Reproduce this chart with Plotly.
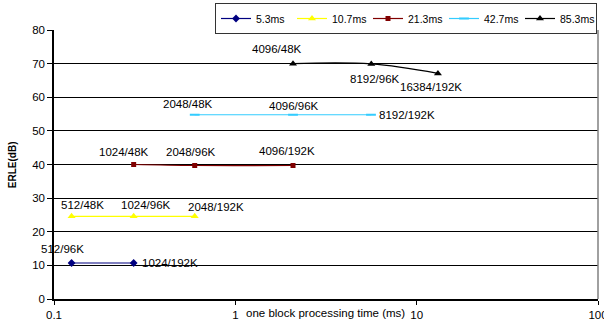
import math
import plotly.graph_objects as go

# ---- data ----
series_names = ["5.3ms", "10.7ms", "21.3ms", "42.7ms", "85.3ms"]
x_53 = [0.125, 0.275]
y_53 = [10.7, 10.7]
lbl_53 = ["512/96K", "1024/192K"]

x_107 = [0.125, 0.275, 0.597]
y_107 = [24.6, 24.6, 24.6]
lbl_107 = ["512/48K", "1024/96K", "2048/192K"]

x_213 = [0.275, 0.597, 2.08]
y_213 = [40.0, 39.7, 39.7]
lbl_213 = ["1024/48K", "2048/96K", "4096/192K"]

x_427 = [0.597, 2.08, 5.6]
y_427 = [54.8, 54.8, 54.8]
lbl_427 = ["2048/48K", "4096/96K", "8192/192K"]

x_853 = [2.08, 5.62, 13.1]
y_853 = [70.0, 69.9, 67.1]
lbl_853 = ["4096/48K", "8192/96K", "16384/192K"]

x_ticks = [0.1, 1, 10, 100]
x_ticktext = ["0.1", "1", "10", "100"]
y_ticks = [0, 10, 20, 30, 40, 50, 60, 70, 80]

# ---- styles ----
FONT = "Arial, Liberation Sans, sans-serif"
styles = [
    dict(color="#000080", symbol="diamond", size=6),
    dict(color="#FFFF00", symbol="triangle-up", size=7),
    dict(color="#800000", symbol="square", size=5),
    dict(color="#33CCFF", symbol="line-ew", size=7),
    dict(color="#000000", symbol="triangle-up", size=7),
]
# label offsets in pixels (dx right, dy up) relative to each point
offsets = [
    [(-9, 14), (36, 0)],
    [(11, 11), (12, 11), (21, 9)],
    [(-10, 13), (-4, 14), (-6, 15)],
    [(-7, 11), (1, 9), (36, 0)],
    [(-16, 15), (4, -15), (-7, -14)],
]

xs = [x_53, x_107, x_213, x_427, x_853]
ys = [y_53, y_107, y_213, y_427, y_853]
lbls = [lbl_53, lbl_107, lbl_213, lbl_427, lbl_853]

fig = go.Figure()
for name, x, y, st in zip(series_names, xs, ys, styles):
    mk = dict(color=st["color"], symbol=st["symbol"], size=st["size"])
    if st["symbol"] == "line-ew":
        mk["line"] = dict(color=st["color"], width=2)
    fig.add_trace(go.Scatter(
        x=x, y=y, name=name, mode="lines+markers",
        line=dict(color=st["color"], width=1.2, shape="spline", smoothing=1),
        marker=mk,
    ))

annotations = []
for x, y, lb, offs in zip(xs, ys, lbls, offsets):
    for xi, yi, t, (dx, dy) in zip(x, y, lb, offs):
        annotations.append(dict(
            x=math.log10(xi), y=yi, xref="x", yref="y", text=t,
            showarrow=False, xshift=dx, yshift=dy,
            font=dict(family=FONT, size=11.5, color="black"),
        ))

annotations.append(dict(
    x=-0.076, y=0.5, xref="paper", yref="paper", text="<b>ERLE(dB)</b>",
    textangle=-90, showarrow=False, xanchor="center", yanchor="middle",
    font=dict(family=FONT, size=10, color="black"),
))
annotations.append(dict(
    x=0.499, y=-0.051, xref="paper", yref="paper",
    text="one block processing time (ms)",
    showarrow=False, xanchor="center", yanchor="middle",
    font=dict(family=FONT, size=11.5, color="black"),
))

fig.update_layout(
    width=604, height=321,
    margin=dict(l=54, r=6, t=30, b=22, autoexpand=False),
    paper_bgcolor="white", plot_bgcolor="white",
    font=dict(family=FONT, size=11.5, color="black"),
    showlegend=True,
    legend=dict(
        orientation="h", xref="container", yref="container",
        x=597 / 604, xanchor="right", y=1 - 3 / 321, yanchor="top",
        bordercolor="#333333", borderwidth=1, bgcolor="white",
        font=dict(family=FONT, size=10.5, color="black"),
        itemwidth=30, tracegroupgap=0, entrywidth=31,
    ),
    annotations=annotations,
    shapes=[dict(type="line", xref="paper", yref="paper", x0=1, x1=1, y0=0, y1=1,
                 line=dict(color="#808080", width=1.5))],
)
fig.update_xaxes(
    type="log", range=[-1, 2], tickvals=x_ticks, ticktext=x_ticktext,
    showgrid=False, zeroline=False, showline=True, linecolor="black", linewidth=1.5,
    ticks="outside", ticklen=4, tickcolor="black", automargin=False,
    ticklabeloverflow="allow",
    tickfont=dict(family=FONT, size=11.5, color="black"),
)
fig.update_yaxes(
    range=[0, 80], tickvals=y_ticks,
    showgrid=True, gridcolor="black", gridwidth=1, zeroline=False,
    showline=True, linecolor="black", linewidth=1.5,
    ticks="outside", ticklen=5, tickcolor="black", automargin=False,
    tickfont=dict(family=FONT, size=11.5, color="black"),
)

fig.write_html(
    "out.html",
    config={"displayModeBar": False},
    post_script="document.body.style.margin='0';document.body.style.overflow='hidden';",
)
